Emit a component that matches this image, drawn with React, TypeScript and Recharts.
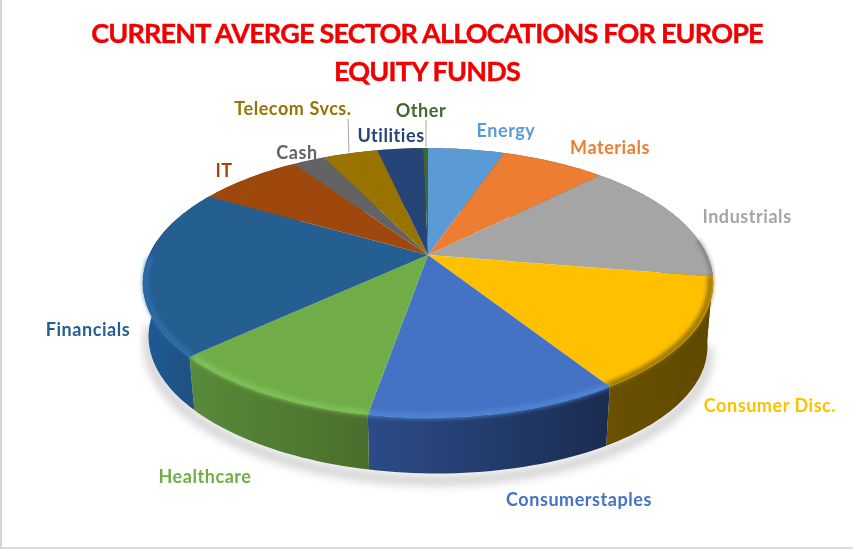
import React from 'react';
import { PieChart, Pie } from 'recharts';

// Sector names and share of the funds (%)
const sectors = ['Energy', 'Materials', 'Industrials', 'Consumer Disc.', 'Consumerstaples', 'Healthcare', 'Financials', 'IT', 'Cash', 'Telecom Svcs.', 'Utilities', 'Other'];
const shares = [5.3, 7.2, 15.1, 13.4, 11.8, 10.4, 20.2, 7.2, 2.2, 3.8, 3.2, 0.3];
const colors = ['#5b9bd5', '#ed7d31', '#a5a5a5', '#ffc000', '#4472c4', '#70ad47', '#255e91', '#9e480e', '#636363', '#997300', '#264478', '#43682b'];

const tableData = sectors.map((name, i) => ({ name, value: shares[i], fill: colors[i] }));

// Side wall gradient (left, right) for the sectors at the front of the pie
const wallShades: Record<string, [string, string]> = {
  'Industrials': ['#6b6b6b', '#5a5a5a'],
  'Consumer Disc.': ['#6a5100', '#5f4900'],
  'Consumerstaples': ['#2c4c88', '#1a2c50'],
  'Healthcare': ['#598a3a', '#4a6e2c'],
  'Financials': ['#1f5b96', '#1f4c78'],
};
// Soft rim highlight where the top face meets the wall
const bevelShades: Record<string, string> = {
  'Industrials': '#5c5c5c',
  'Consumer Disc.': '#8a6a00',
  'Consumerstaples': '#4f86d8',
  'Healthcare': '#80c458',
  'Financials': '#2e70ac',
};

// Where each label sits, text centre
const labelSpots: Record<string, [number, number]> = {
  'Energy': [506, 130],
  'Materials': [610, 147],
  'Industrials': [747, 216],
  'Consumer Disc.': [770, 405],
  'Consumerstaples': [579, 499],
  'Healthcare': [205, 476],
  'Financials': [88, 329],
  'IT': [224, 170],
  'Cash': [297, 152],
  'Telecom Svcs.': [293, 108],
  'Utilities': [391, 135],
  'Other': [421, 110],
};

const TILT = 0.4624; // vertical squash of the disc
const PERSP = 0.207; // perspective strength
const WALL_DROP = 59;
const WALL_SCALE = 0.98;
const WALL_LEAN = 5; // wall gets a little shallower on the left

// disc angle (recharts degrees) -> screen point, with a simple perspective
const project = (cx: number, cy: number, r: number, deg: number, scale = 1, drop = 0) => {
  const th = (deg * Math.PI) / 180;
  const u = Math.cos(th);
  const t = -Math.sin(th);
  const w = 1 - PERSP * t;
  const lean = drop ? WALL_LEAN * u : 0;
  return { x: cx + (scale * r * u) / w, y: cy + drop + lean + (scale * r * TILT * t) / w, t };
};

const rimPoints = (p: any, scale = 1, drop = 0) => {
  const steps = Math.max(2, Math.ceil(Math.abs(p.startAngle - p.endAngle) / 1.5));
  const pts = [];
  for (let i = 0; i <= steps; i++) {
    const deg = p.startAngle + ((p.endAngle - p.startAngle) * i) / steps;
    pts.push(project(p.cx, p.cy, p.outerRadius, deg, scale, drop));
  }
  return pts;
};

const toPath = (pts: { x: number; y: number }[]) => pts.map((q, i) => `${i ? 'L' : 'M'}${q.x.toFixed(1)} ${q.y.toFixed(1)}`).join(' ');

const ShadowShape = (p: any) => {
  const pts = rimPoints(p, WALL_SCALE, WALL_DROP + 7).filter((q) => q.t > 0.05);
  if (pts.length < 2) return null;
  return <path d={toPath(pts)} fill="none" stroke="#000" strokeOpacity={0.2} strokeWidth={9} filter="url(#shadowBlur)" />;
};

const WallShape = (p: any) => {
  const top = rimPoints(p);
  const bottom = rimPoints(p, WALL_SCALE, WALL_DROP).reverse();
  const shade = wallShades[p.name] || ['#666', '#555'];
  const xs = top.concat(bottom).map((q) => q.x);
  const id = `wall-${p.index}`;
  return (
    <g>
      <defs>
        <linearGradient id={id} gradientUnits="userSpaceOnUse" x1={Math.min(...xs)} x2={Math.max(...xs)} y1={0} y2={0}>
          <stop offset="0%" stopColor={shade[0]} />
          <stop offset="100%" stopColor={shade[1]} />
        </linearGradient>
      </defs>
      <path d={`${toPath(top)} ${toPath(bottom).replace('M', 'L')} Z`} fill={`url(#${id})`} />
    </g>
  );
};

const TopShape = (p: any) => {
  const rim = rimPoints(p);
  const bevel = bevelShades[p.name];
  const thin = p.name === 'Industrials';
  const bevelPts = rimPoints(p, thin ? 0.997 : 0.99).filter((q) => q.t > (thin ? -0.12 : 0));
  return (
    <g>
      <path d={`M${p.cx} ${p.cy} ${toPath(rim).replace('M', 'L')} Z`} fill={p.fill} />
      {bevel && bevelPts.length > 1 && (
        <path d={toPath(bevelPts)} fill="none" stroke={bevel} strokeWidth={thin ? 2 : 5} filter="url(#bevelBlur)" />
      )}
    </g>
  );
};

const SectorLabel = (p: any) => {
  const spot = labelSpots[p.name];
  const fill = colors[p.index];
  return (
    <g>
      {p.name === 'Telecom Svcs.' && <line x1={348} y1={119} x2={349} y2={152} stroke="#a6a6a6" />}
      {p.name === 'Other' && <line x1={426} y1={120} x2={426} y2={147} stroke="#a6a6a6" />}
      <text x={spot[0]} y={spot[1]} textAnchor="middle" dominantBaseline="central" fill={fill} fontFamily="Lato, sans-serif" fontWeight={700} fontSize={18} letterSpacing={0.55}>
        {p.name}
      </text>
    </g>
  );
};

const titleStyle: React.CSSProperties = {
  position: 'absolute',
  left: 0,
  width: 854,
  textAlign: 'center',
  color: '#f00000',
  fontFamily: 'Lato, sans-serif',
  fontWeight: 700,
  fontSize: 27,
  lineHeight: '30px',
  letterSpacing: -0.8,
  WebkitTextStroke: '0.4px #f00000',
  whiteSpace: 'nowrap',
};

export default function App() {
  const pieProps = {
    data: tableData,
    dataKey: 'value',
    nameKey: 'name',
    cx: 428,
    cy: 255,
    outerRadius: 279,
    startAngle: 90,
    endAngle: -270,
    stroke: 'none',
    isAnimationActive: false,
  };
  return (
    <div style={{ position: 'absolute', left: 0, top: 0, width: 853, height: 549, background: '#fff', overflow: 'hidden', boxShadow: 'inset 2px 0 0 #d6d6d6, inset 0 -2px 0 #dcdcdc' }}>
      <div style={{ position: 'absolute', inset: 0, filter: 'blur(0.4px)' }}>
        <div style={{ ...titleStyle, top: 18 }}>CURRENT AVERGE SECTOR ALLOCATIONS FOR EUROPE</div>
        <div style={{ ...titleStyle, top: 56 }}>EQUITY FUNDS</div>
        <PieChart width={853} height={549} margin={{ top: 0, right: 0, bottom: 0, left: 0 }}>
          <defs>
            <filter id="shadowBlur" x="-20%" y="-50%" width="140%" height="200%">
              <feGaussianBlur stdDeviation="5" />
            </filter>
            <filter id="bevelBlur" x="-20%" y="-50%" width="140%" height="200%">
              <feGaussianBlur stdDeviation="2.2" />
            </filter>
          </defs>
          <Pie {...pieProps} shape={ShadowShape} />
          <Pie {...pieProps} shape={WallShape} />
          <Pie {...pieProps} shape={TopShape} label={SectorLabel} labelLine={false} />
        </PieChart>
      </div>
    </div>
  );
}
